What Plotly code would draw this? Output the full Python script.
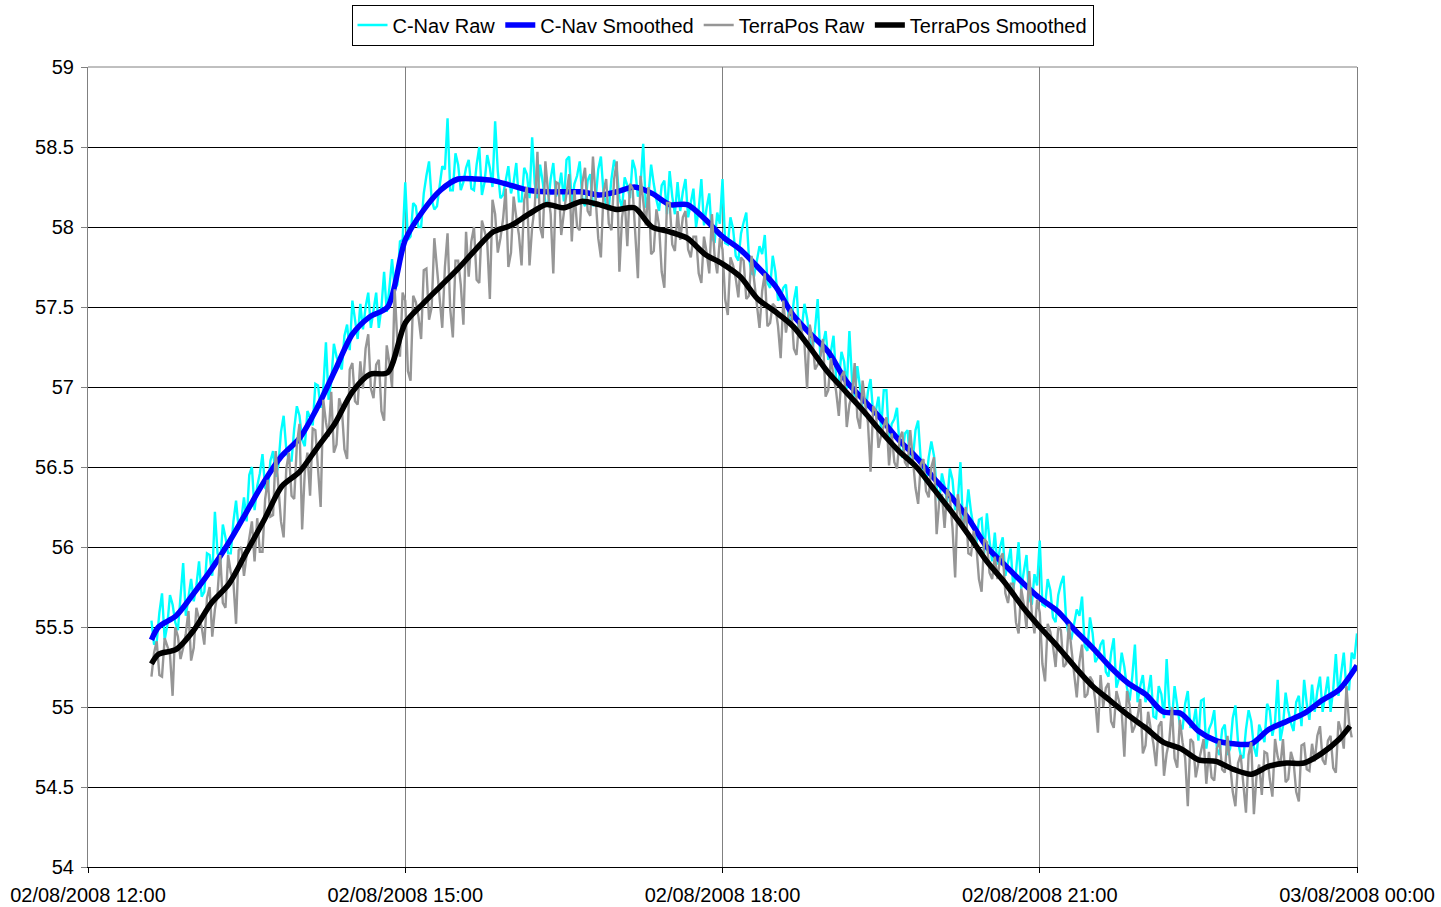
import pandas as pd
import plotly.graph_objects as go

# Time base: minutes after 02/08/2008 12:00
START = pd.Timestamp("2008-08-02 12:00")

# Smoothed series, sampled every 10 minutes
cnav_smooth_min = [36, 40] + list(range(50, 721, 10))
cnav_smooth = [
    55.42, 55.50, 55.57, 55.71, 55.86, 56.03, 56.22, 56.41, 56.57, 56.68,
    56.87, 57.10, 57.33, 57.44, 57.50, 57.92, 58.10, 58.23, 58.30, 58.30,
    58.29, 58.26, 58.23, 58.22, 58.22, 58.22, 58.20, 58.22, 58.25, 58.21,
    58.14, 58.14, 58.05, 57.94, 57.86, 57.75, 57.63, 57.45, 57.33, 57.22,
    57.04, 56.92, 56.80, 56.67, 56.56, 56.43, 56.31, 56.17, 56.00, 55.89,
    55.78, 55.68, 55.60, 55.48, 55.37, 55.25, 55.15, 55.08, 54.97, 54.96,
    54.85, 54.79, 54.77, 54.77, 54.86, 54.91, 54.96, 55.04, 55.11, 55.26,
]

terrapos_smooth_min = [36, 40] + list(range(50, 711, 10)) + [716]
terrapos_smooth = [
    55.27, 55.33, 55.36, 55.48, 55.65, 55.77, 55.97, 56.17, 56.38, 56.47,
    56.62, 56.77, 56.97, 57.08, 57.09, 57.40, 57.52, 57.63, 57.74, 57.86,
    57.97, 58.01, 58.08, 58.14, 58.12, 58.16, 58.14, 58.11, 58.12, 58.00,
    57.97, 57.93, 57.83, 57.77, 57.69, 57.55, 57.47, 57.38, 57.24, 57.09,
    56.97, 56.85, 56.72, 56.60, 56.50, 56.36, 56.22, 56.07, 55.91, 55.78,
    55.63, 55.50, 55.38, 55.25, 55.13, 55.04, 54.95, 54.87, 54.78, 54.74,
    54.67, 54.66, 54.61, 54.58, 54.63, 54.65, 54.65, 54.71, 54.80, 54.88,
]

# Raw series, sampled every 1.5 minutes
cnav_raw_min = [36 + 1.5 * k for k in range(457)]
cnav_raw = [
    55.54, 55.39, 55.41, 55.59, 55.71, 55.42, 55.51, 55.70, 55.64, 55.53,
    55.48, 55.67, 55.90, 55.57, 55.70, 55.80, 55.66, 55.76, 55.91, 55.69,
    55.72, 55.96, 55.95, 55.82, 56.22, 55.96, 55.90, 56.14, 56.06, 55.96,
    55.96, 56.16, 56.29, 56.11, 56.17, 56.31, 56.16, 56.45, 56.50, 56.23,
    56.38, 56.46, 56.58, 56.37, 56.35, 56.54, 56.60, 56.44, 56.51, 56.72,
    56.82, 56.61, 56.54, 56.54, 56.74, 56.88, 56.82, 56.67, 56.63, 56.85,
    56.81, 56.76, 57.02, 57.01, 56.87, 56.99, 57.28, 56.92, 57.03, 57.27,
    57.19, 57.14, 57.11, 57.32, 57.39, 57.23, 57.54, 57.40, 57.30, 57.52,
    57.36, 57.50, 57.59, 57.37, 57.48, 57.59, 57.37, 57.50, 57.72, 57.47,
    57.62, 57.80, 57.61, 57.64, 57.91, 57.92, 58.28, 57.92, 57.94, 58.15,
    58.13, 58.00, 58.00, 58.21, 58.32, 58.41, 58.17, 58.11, 58.13, 58.26,
    58.38, 58.36, 58.68, 58.23, 58.23, 58.46, 58.39, 58.23, 58.28, 58.37,
    58.42, 58.24, 58.23, 58.39, 58.50, 58.20, 58.28, 58.45, 58.37, 58.25,
    58.66, 58.35, 58.18, 58.20, 58.30, 58.38, 58.21, 58.28, 58.40, 58.16,
    58.16, 58.37, 58.33, 58.18, 58.56, 58.27, 58.18, 58.39, 58.28, 58.15,
    58.13, 58.30, 58.40, 58.19, 58.23, 58.34, 58.16, 58.42, 58.44, 58.14,
    58.27, 58.32, 58.41, 58.17, 58.13, 58.29, 58.33, 58.13, 58.17, 58.36,
    58.44, 58.21, 58.14, 58.12, 58.30, 58.42, 58.36, 58.18, 58.12, 58.31,
    58.26, 58.18, 58.42, 58.36, 58.19, 58.26, 58.52, 58.12, 58.20, 58.39,
    58.27, 58.17, 58.10, 58.26, 58.29, 58.08, 58.35, 58.19, 58.08, 58.28,
    58.10, 58.22, 58.30, 58.06, 58.15, 58.24, 58.00, 58.11, 58.30, 58.01,
    58.12, 58.21, 57.94, 57.90, 58.09, 58.02, 58.30, 57.90, 57.89, 58.06,
    57.99, 57.82, 57.79, 57.96, 58.03, 58.09, 57.81, 57.71, 57.70, 57.80,
    57.88, 57.83, 57.95, 57.65, 57.62, 57.82, 57.72, 57.54, 57.56, 57.62,
    57.64, 57.44, 57.40, 57.54, 57.63, 57.31, 57.37, 57.52, 57.43, 57.30,
    57.22, 57.36, 57.55, 57.19, 57.28, 57.35, 57.17, 57.22, 57.32, 57.05,
    57.03, 57.22, 57.16, 56.99, 57.35, 57.04, 56.94, 57.13, 57.00, 56.86,
    56.82, 56.97, 57.05, 56.83, 56.85, 56.94, 56.74, 56.98, 56.98, 56.66,
    56.77, 56.80, 56.87, 56.62, 56.56, 56.71, 56.73, 56.52, 56.55, 56.73,
    56.79, 56.54, 56.44, 56.40, 56.56, 56.66, 56.57, 56.37, 56.28, 56.46,
    56.38, 56.28, 56.49, 56.42, 56.23, 56.29, 56.53, 56.12, 56.18, 56.36,
    56.22, 56.11, 56.02, 56.17, 56.18, 55.96, 56.21, 56.04, 55.91, 56.09,
    55.89, 56.00, 56.06, 55.82, 55.90, 55.99, 55.74, 55.84, 56.03, 55.74,
    55.85, 55.95, 55.68, 55.64, 55.83, 55.76, 56.04, 55.64, 55.63, 55.80,
    55.73, 55.56, 55.53, 55.70, 55.77, 55.82, 55.54, 55.44, 55.43, 55.53,
    55.61, 55.57, 55.69, 55.38, 55.35, 55.56, 55.46, 55.28, 55.31, 55.39,
    55.42, 55.22, 55.19, 55.34, 55.43, 55.12, 55.18, 55.34, 55.25, 55.12,
    55.04, 55.19, 55.39, 55.03, 55.13, 55.20, 55.03, 55.09, 55.20, 54.94,
    54.93, 55.13, 55.08, 54.93, 55.30, 55.01, 54.92, 55.13, 55.02, 54.89,
    54.86, 55.02, 55.10, 54.87, 54.89, 54.99, 54.79, 55.04, 55.05, 54.74,
    54.86, 54.90, 54.98, 54.74, 54.70, 54.86, 54.89, 54.70, 54.74, 54.93,
    55.01, 54.78, 54.70, 54.68, 54.86, 54.98, 54.91, 54.75, 54.69, 54.89,
    54.84, 54.78, 55.02, 54.98, 54.82, 54.91, 55.17, 54.79, 54.88, 55.09,
    54.98, 54.90, 54.85, 55.03, 55.07, 54.88, 55.17, 55.02, 54.92, 55.14,
    54.97, 55.10, 55.19, 54.97, 55.08, 55.19, 54.97, 55.11, 55.33, 55.07,
    55.21, 55.34, 55.11, 55.11, 55.34, 55.30, 55.46,
]

terrapos_raw_min = [36 + 1.5 * k for k in range(455)]
terrapos_raw = [
    55.19, 55.34, 55.41, 55.20, 55.19, 55.43, 55.38, 55.33, 55.07, 55.50,
    55.44, 55.30, 55.37, 55.46, 55.60, 55.29, 55.37, 55.62, 55.55, 55.50,
    55.39, 55.68, 55.75, 55.44, 55.61, 55.71, 55.95, 55.65, 55.62, 55.95,
    55.84, 55.78, 55.52, 55.98, 56.00, 55.82, 55.95, 56.06, 56.16, 55.91,
    56.18, 55.97, 55.97, 56.30, 56.42, 56.19, 56.20, 56.60, 56.39, 56.16,
    56.06, 56.49, 56.59, 56.32, 56.30, 56.64, 56.77, 56.11, 56.47, 56.59,
    56.32, 56.74, 56.73, 56.49, 56.25, 56.92, 56.78, 56.69, 56.97, 56.59,
    56.64, 56.93, 56.87, 56.61, 56.55, 57.11, 57.15, 56.91, 56.89, 57.16,
    56.99, 57.24, 57.33, 56.99, 56.93, 57.14, 57.17, 56.85, 56.79, 57.26,
    57.15, 57.00, 57.61, 57.29, 57.19, 57.59, 57.54, 57.10, 57.04, 57.57,
    57.53, 57.44, 57.30, 57.73, 57.74, 57.42, 57.50, 57.93, 57.73, 57.55,
    57.37, 57.75, 57.96, 57.49, 57.31, 57.79, 57.79, 57.64, 57.39, 57.97,
    57.69, 57.91, 58.00, 57.67, 57.65, 58.04, 57.98, 57.91, 57.55, 58.17,
    58.08, 57.84, 57.93, 58.05, 58.24, 57.75, 57.84, 58.19, 58.06, 57.95,
    57.76, 58.17, 58.25, 57.76, 58.00, 58.13, 58.47, 58.00, 57.93, 58.41,
    58.22, 58.08, 57.71, 58.28, 58.27, 57.95, 58.09, 58.22, 58.33, 57.91,
    58.23, 58.00, 57.98, 58.28, 58.37, 58.10, 58.07, 58.44, 58.19, 57.93,
    57.81, 58.22, 58.30, 58.02, 57.98, 58.30, 58.41, 57.72, 58.06, 58.17,
    57.88, 58.27, 58.24, 57.97, 57.68, 58.32, 58.14, 58.01, 58.25, 57.83,
    57.85, 58.11, 58.01, 57.72, 57.62, 58.15, 58.15, 57.89, 57.85, 58.10,
    57.92, 58.06, 58.10, 57.86, 57.81, 57.94, 57.94, 57.71, 57.65, 57.94,
    57.84, 57.71, 58.08, 57.82, 57.71, 57.93, 57.86, 57.55, 57.45, 57.81,
    57.76, 57.68, 57.56, 57.81, 57.79, 57.55, 57.57, 57.82, 57.66, 57.52,
    57.37, 57.60, 57.71, 57.38, 57.40, 57.52, 57.50, 57.38, 57.18, 57.54,
    57.34, 57.45, 57.49, 57.24, 57.20, 57.42, 57.35, 57.27, 56.99, 57.39,
    57.30, 57.11, 57.14, 57.19, 57.30, 56.94, 56.98, 57.18, 57.07, 56.97,
    56.82, 57.07, 57.10, 56.75, 56.89, 56.95, 57.15, 56.81, 56.74, 57.04,
    56.89, 56.78, 56.47, 56.88, 56.85, 56.62, 56.70, 56.76, 56.81, 56.51,
    56.71, 56.53, 56.49, 56.68, 56.72, 56.53, 56.50, 56.73, 56.55, 56.37,
    56.27, 56.52, 56.55, 56.35, 56.31, 56.50, 56.56, 56.08, 56.29, 56.33,
    56.12, 56.36, 56.31, 56.12, 55.81, 56.33, 56.20, 56.11, 56.25, 55.96,
    55.95, 56.10, 56.01, 55.80, 55.72, 56.05, 56.03, 55.84, 55.80, 55.94,
    55.80, 55.93, 55.96, 55.71, 55.65, 55.77, 55.77, 55.53, 55.46, 55.74,
    55.64, 55.49, 55.85, 55.58, 55.46, 55.67, 55.59, 55.27, 55.16, 55.52,
    55.47, 55.38, 55.25, 55.50, 55.48, 55.25, 55.27, 55.52, 55.36, 55.21,
    55.06, 55.28, 55.39, 55.06, 55.08, 55.19, 55.16, 55.04, 54.84, 55.20,
    55.00, 55.12, 55.15, 54.91, 54.87, 55.10, 55.04, 54.97, 54.69, 55.10,
    55.01, 54.84, 54.88, 54.94, 55.05, 54.71, 54.76, 54.97, 54.86, 54.77,
    54.63, 54.88, 54.91, 54.57, 54.71, 54.79, 55.00, 54.68, 54.62, 54.92,
    54.78, 54.68, 54.38, 54.80, 54.78, 54.56, 54.65, 54.73, 54.80, 54.52,
    54.72, 54.56, 54.54, 54.74, 54.79, 54.61, 54.59, 54.82, 54.65, 54.47,
    54.38, 54.65, 54.70, 54.52, 54.34, 54.70, 54.78, 54.33, 54.57, 54.64,
    54.45, 54.72, 54.71, 54.55, 54.44, 54.80, 54.69, 54.63, 54.80, 54.53,
    54.55, 54.72, 54.66, 54.47, 54.41, 54.76, 54.77, 54.61, 54.60, 54.77,
    54.66, 54.82, 54.88, 54.67, 54.64, 54.79, 54.82, 54.62, 54.59, 54.91,
    54.85, 54.74, 55.13, 54.90, 54.81,
]

# Axis ticks
x_tick_min = [0, 180, 360, 540, 720]
x_tick_text = ["02/08/2008 12:00", "02/08/2008 15:00", "02/08/2008 18:00",
               "02/08/2008 21:00", "03/08/2008 00:00"]
y_ticks = [54, 54.5, 55, 55.5, 56, 56.5, 57, 57.5, 58, 58.5, 59]
y_tick_text = ["54", "54.5", "55", "55.5", "56", "56.5", "57", "57.5", "58", "58.5", "59"]


def to_time(minutes):
    return START + pd.to_timedelta(minutes, unit="m")


FONT = "Liberation Sans, Arial, sans-serif"

fig = go.Figure()
fig.add_trace(go.Scatter(
    x=to_time(cnav_raw_min), y=cnav_raw, name="C-Nav Raw", mode="lines",
    line=dict(color="#00FFFF", width=2.4)))
fig.add_trace(go.Scatter(
    x=to_time(cnav_smooth_min), y=cnav_smooth, name="C-Nav Smoothed", mode="lines",
    line=dict(color="#0000FF", width=5.5, shape="spline", smoothing=0.8)))
fig.add_trace(go.Scatter(
    x=to_time(terrapos_raw_min), y=terrapos_raw, name="TerraPos Raw", mode="lines",
    line=dict(color="#969696", width=2.4)))
fig.add_trace(go.Scatter(
    x=to_time(terrapos_smooth_min), y=terrapos_smooth, name="TerraPos Smoothed", mode="lines",
    line=dict(color="#000000", width=5.5, shape="spline", smoothing=0.8)))

fig.update_layout(
    width=1441, height=907,
    margin=dict(l=88, r=84, t=67, b=40, autoexpand=False),
    paper_bgcolor="white", plot_bgcolor="white",
    font=dict(family=FONT, color="black", size=20),
    legend=dict(
        orientation="h", x=0.5, xanchor="center",
        yref="container", y=0.995, yanchor="top",
        bgcolor="white", bordercolor="black", borderwidth=1,
        font=dict(family=FONT, size=20), itemwidth=30, tracegroupgap=0,
    ),
    shapes=[dict(type="line", xref="paper", yref="paper", x0=0, x1=1, y0=1, y1=1,
                 line=dict(color="#808080", width=1), layer="above")],
)

fig.update_xaxes(
    type="date",
    range=[to_time(0), to_time(720)],
    tickmode="array", tickvals=to_time(x_tick_min), ticktext=x_tick_text,
    showgrid=True, gridcolor="#808080", gridwidth=1,
    showline=True, linecolor="black", linewidth=1,
    ticks="outside", ticklen=5, tickcolor="black",
    tickfont=dict(family=FONT, size=20), ticklabelstandoff=5, zeroline=False,
)
fig.update_yaxes(
    range=[54, 59],
    tickmode="array", tickvals=y_ticks, ticktext=y_tick_text,
    showgrid=True, gridcolor="black", gridwidth=1,
    showline=True, linecolor="#808080", linewidth=1, mirror=True,
    ticks="outside", ticklen=6, tickcolor="#808080",
    tickfont=dict(family=FONT, size=20), ticklabelstandoff=3, zeroline=False,
)

fig.write_html("out.html")
